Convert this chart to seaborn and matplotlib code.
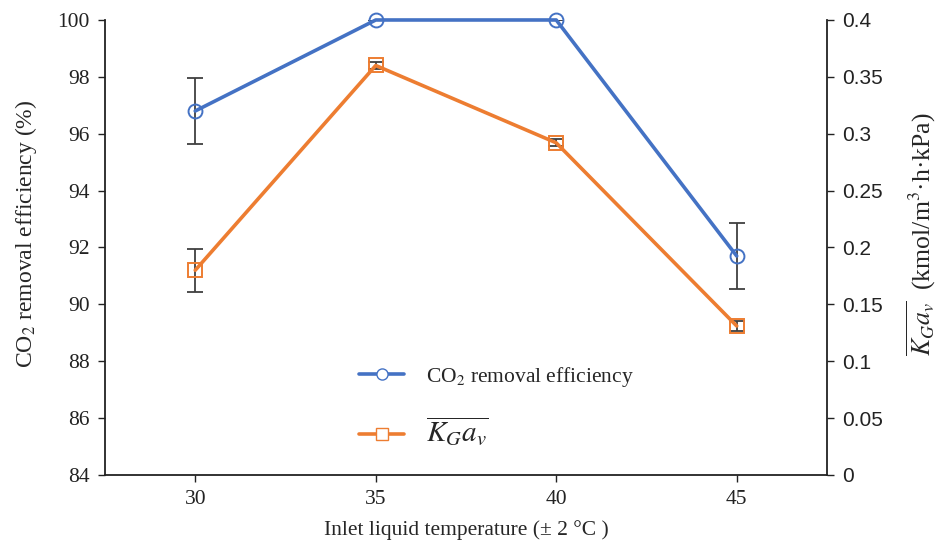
import matplotlib
matplotlib.use("Agg")
import matplotlib.pyplot as plt
import seaborn as sns
import pandas as pd

# Inlet liquid temperature (°C)
temperature = [30, 35, 40, 45]
# CO2 removal efficiency (%) and its standard deviation
removal_eff = [96.8, 100.0, 100.0, 91.7]
removal_err = [1.15, 0.0, 0.0, 1.15]
# Average volumetric mass-transfer coefficient (kmol/m3·h·kPa) and deviation
kga = [0.180, 0.360, 0.292, 0.131]
kga_err = [0.019, 0.003, 0.003, 0.004]

blue = "#4472C4"
orange = "#ED7D31"

sns.set_theme(style="white")
plt.rcParams["font.family"] = ["Liberation Serif", "DejaVu Serif"]
plt.rcParams["mathtext.fontset"] = "stix"

df_eff = pd.DataFrame({"T": temperature, "eff": removal_eff})
df_kga = pd.DataFrame({"T": temperature, "kga": kga})

fig = plt.figure(figsize=(9.39, 5.49), dpi=100)
ax = fig.add_axes([0.1118, 0.1348, 0.7689, 0.8288])
ax2 = ax.twinx()

# Error bars first, so the lines and markers sit on top
ax.errorbar(temperature, removal_eff, yerr=removal_err, fmt="none",
            ecolor="#404040", elinewidth=1.3, capsize=6, capthick=1.3, zorder=2)
ax2.errorbar(temperature, kga, yerr=kga_err, fmt="none",
             ecolor="#404040", elinewidth=1.3, capsize=6, capthick=1.3, zorder=2)

sns.lineplot(data=df_eff, x="T", y="eff", ax=ax, color=blue, lw=2.6,
             marker="o", markersize=10, markerfacecolor="none",
             markeredgecolor=blue, markeredgewidth=1.4, clip_on=False,
             zorder=3, legend=False)
sns.lineplot(data=df_kga, x="T", y="kga", ax=ax2, color=orange, lw=2.6,
             marker="s", markersize=10, markerfacecolor="none",
             markeredgecolor=orange, markeredgewidth=1.4, clip_on=False,
             zorder=3, legend=False)

ax.set_xlim(27.5, 47.5)
ax.set_ylim(84, 100)
ax.set_yticks(range(84, 101, 2))
ax.set_xticks(temperature)
ax2.set_ylim(0, 0.4)
ax2.set_yticks([0, 0.05, 0.1, 0.15, 0.2, 0.25, 0.3, 0.35, 0.4])
ax2.set_yticklabels(["0", "0.05", "0.1", "0.15", "0.2", "0.25", "0.3", "0.35", "0.4"],
                    family="Liberation Sans")

for a in (ax, ax2):
    a.spines["top"].set_visible(False)
    for s in ("left", "right", "bottom"):
        a.spines[s].set_color("#222222")
        a.spines[s].set_linewidth(1.3)
    a.tick_params(axis="both", direction="out", length=5, width=1.0,
                  colors="#222222", labelsize=15.5, pad=6)
    a.grid(False)
ax.spines["right"].set_visible(False)
ax2.spines["left"].set_visible(False)
ax2.spines["bottom"].set_visible(False)
ax.tick_params(left=True, bottom=True)
ax2.tick_params(right=True, labelsize=15)

ax.set_xlabel("Inlet liquid temperature (± 2 °C )", fontsize=15.5, labelpad=8)
ax.set_ylabel("CO$_2$ removal efficiency (%)", fontsize=17)
ax.yaxis.set_label_coords(-0.092, 0.53)
ax2.set_ylabel(r"$\overline{K_G a_v}$  (kmol/m$^3$·h·kPa)", fontsize=18.5)
ax2.yaxis.set_label_coords(1.108, 0.53)

# Legend built from proxy handles matching the plotted styles
h1 = plt.Line2D([], [], color=blue, lw=2.6, marker="o", markersize=8,
                markerfacecolor="white", markeredgecolor=blue)
h2 = plt.Line2D([], [], color=orange, lw=2.6, marker="s", markersize=8,
                markerfacecolor="white", markeredgecolor=orange)
leg = ax.legend([h1, h2], ["CO$_2$ removal efficiency", r"$\overline{K_G a_v}$"],
                loc="upper left", bbox_to_anchor=(0.325, 0.285), frameon=False,
                fontsize=15.5, labelspacing=1.2, handlelength=2.1,
                handletextpad=1.0)
leg.get_texts()[1].set_fontsize(21)

fig.savefig("out.png", dpi=100)
